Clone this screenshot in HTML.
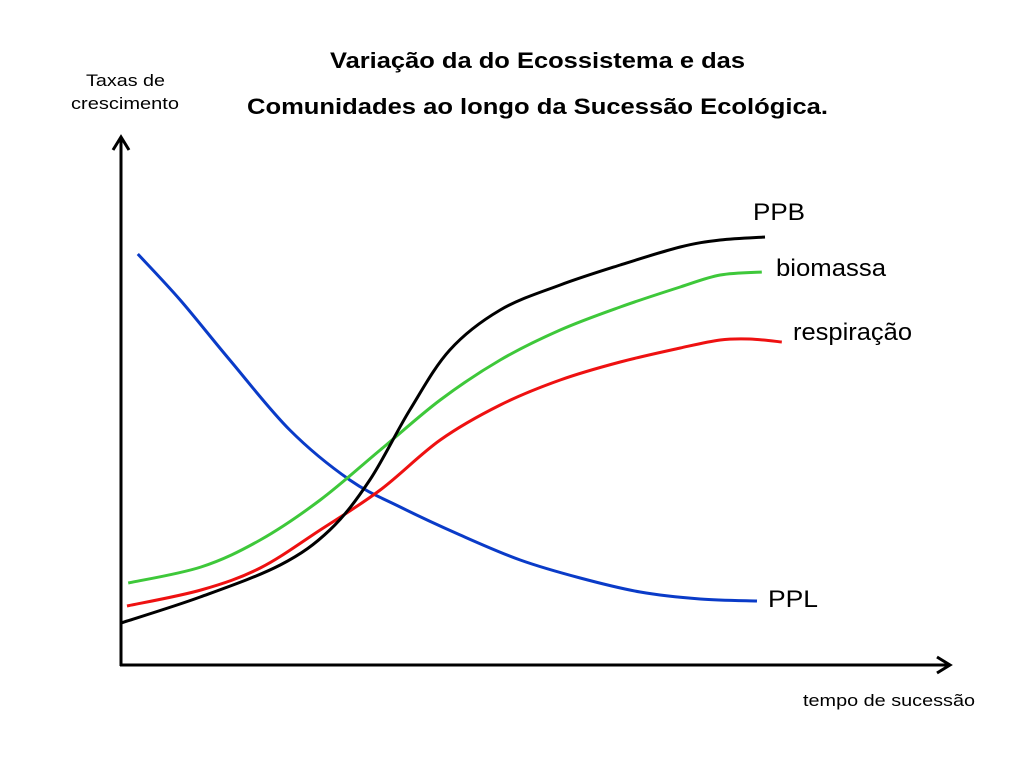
<!DOCTYPE html>
<html><head><meta charset="utf-8">
<style>
html,body{margin:0;padding:0;background:#fff;}
svg{display:block;font-family:"Liberation Sans",Arial,sans-serif;}
</style></head>
<body>
<svg id="chart" width="1024" height="768" viewBox="0 0 1024 768">
  <text x="330" y="68" font-size="22" font-weight="bold" textLength="415" lengthAdjust="spacingAndGlyphs">Variação da do Ecossistema e das</text>
  <text x="247" y="114" font-size="22" font-weight="bold" textLength="581" lengthAdjust="spacingAndGlyphs">Comunidades ao longo da Sucessão Ecológica.</text>
  <text x="86" y="86" font-size="17" textLength="79" lengthAdjust="spacingAndGlyphs">Taxas de</text>
  <text x="71" y="109" font-size="17" textLength="108" lengthAdjust="spacingAndGlyphs">crescimento</text>
  <text x="803" y="706" font-size="17" textLength="172" lengthAdjust="spacingAndGlyphs">tempo de sucessão</text>
  <g stroke="#000" stroke-width="3" fill="none">
    <line x1="121" y1="666" x2="121" y2="137"/>
    <polyline points="113,150 121,137 129,150"/>
    <line x1="120" y1="665" x2="950" y2="665"/>
    <polyline points="937,657 950,665 937,673"/>
  </g>
  <g id="series"></g>
  <text x="753" y="220" font-size="24" textLength="52" lengthAdjust="spacingAndGlyphs">PPB</text>
  <text x="776" y="276" font-size="24" textLength="110" lengthAdjust="spacingAndGlyphs">biomassa</text>
  <text x="793" y="340" font-size="24" textLength="119" lengthAdjust="spacingAndGlyphs">respiração</text>
  <text x="768" y="607" font-size="24" textLength="50" lengthAdjust="spacingAndGlyphs">PPL</text>
</svg>
<script>
const ppbT = [0,9.9,19.9,26.1,31.1,36.1,41.1,47.4,54.9,62.4,69.9,74.9,80.5];
const ppbV = [8.4,13.6,20,27,37,51,63,71,76,80,83.6,85,85.6];
const bioT = [0.9,10,17.4,24.9,32.4,39.9,47.4,54.9,62.4,69.9,74.9,80.1];
const bioV = [16.4,19.6,25,33,43,53,61,67,71.6,75.6,78,78.6];
const respT = [0.75,10,17.4,24.9,32.4,39.9,47.4,54.9,62.4,69.9,74.9,78.6,82.6];
const respV = [11.8,15,19.4,27,35,45,52,57,60.6,63.4,65,65.2,64.6];
const pplT = [2.1,7.4,13.6,21.1,28.6,34.9,42.4,49.9,57.4,64.9,72.4,79.5];
const pplV = [82.2,73,61,47,37,31.6,26,21,17.4,14.6,13.2,12.8];

function xScale(t){return 121 + t*8;}
function yScale(v){return 665 - v*5;}
function pathFrom(T,V){
  const p = T.map((t,i)=>[xScale(t),yScale(V[i])]);
  let d = 'M'+p[0][0]+','+p[0][1];
  for(let i=0;i<p.length-1;i++){
    const p0=p[Math.max(0,i-1)],p1=p[i],p2=p[i+1],p3=p[Math.min(p.length-1,i+2)];
    const c1=[p1[0]+(p2[0]-p0[0])/6,p1[1]+(p2[1]-p0[1])/6];
    const c2=[p2[0]-(p3[0]-p1[0])/6,p2[1]-(p3[1]-p1[1])/6];
    d+=' C'+c1[0]+','+c1[1]+' '+c2[0]+','+c2[1]+' '+p2[0]+','+p2[1];
  }
  return d;
}
const g = document.getElementById('series');
function addLine(T,V,color,name){
  const el = document.createElementNS('http://www.w3.org/2000/svg','path');
  el.setAttribute('d',pathFrom(T,V));
  el.setAttribute('fill','none');
  el.setAttribute('stroke',color);
  el.setAttribute('stroke-width','3');
  
  
  g.appendChild(el);
}
addLine(pplT,pplV,'#0a3bc8','line-ppl');
addLine(bioT,bioV,'#3ec83a','line-biomassa');
addLine(respT,respV,'#ee1111','line-respiracao');
addLine(ppbT,ppbV,'#000000','line-ppb');
</script>
</body></html>
